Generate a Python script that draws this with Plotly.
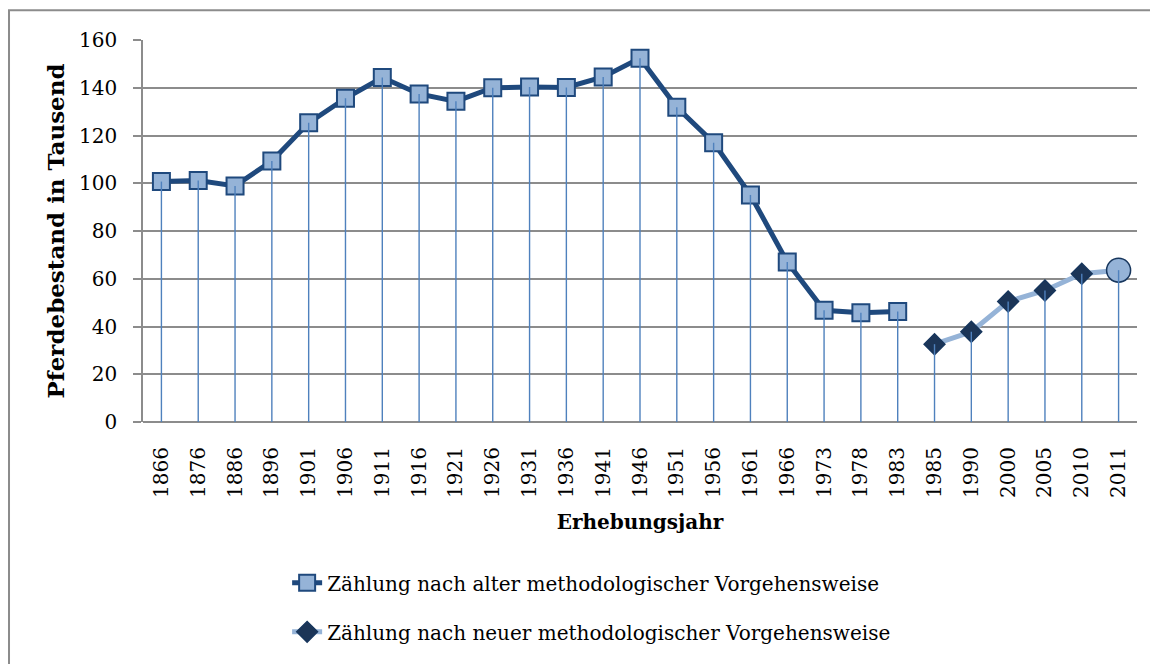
import plotly.graph_objects as go

# Erhebungsjahre (kategoriale Achse)
years_old = ["1866", "1876", "1886", "1896", "1901", "1906", "1911", "1916", "1921",
             "1926", "1931", "1936", "1941", "1946", "1951", "1956", "1961", "1966",
             "1973", "1978", "1983"]
horses_old = [100.7, 101.1, 98.9, 109.3, 125.3, 135.6, 144.3, 137.4, 134.3,
              140.0, 140.3, 140.1, 144.5, 152.4, 131.8, 117.0, 95.1, 67.0,
              46.8, 45.8, 46.3]

years_new = ["1985", "1990", "2000", "2005", "2010", "2011"]
horses_new = [32.6, 37.8, 50.5, 55.1, 62.1, 63.6]

all_years = years_old + years_new
all_values = horses_old + horses_new

FONT = "DejaVu Serif, Liberation Serif, serif"
DARK = "#1f497d"
LIGHT = "#95b3d7"
NAVY = "#1c3557"
DROP = "#4f81bd"
GRID = "#8c8c8c"

fig = go.Figure()

fig.add_trace(go.Scatter(
    x=years_old, y=horses_old,
    name="Zählung nach alter methodologischer Vorgehensweise",
    mode="lines+markers",
    line=dict(color=DARK, width=5),
    marker=dict(symbol="square", size=17, color=LIGHT, line=dict(color=DARK, width=2)),
    legendgroup="a",
))

# letzter Punkt (2011) als Kreis hervorgehoben
new_symbols = ["diamond"] * (len(years_new) - 1) + ["circle"]
new_sizes = [16] * (len(years_new) - 1) + [24]
new_fill = [NAVY] * (len(years_new) - 1) + [LIGHT]
fig.add_trace(go.Scatter(
    x=years_new, y=horses_new,
    name="Zählung nach neuer methodologischer Vorgehensweise",
    mode="lines+markers",
    line=dict(color=LIGHT, width=5),
    marker=dict(symbol=new_symbols, size=new_sizes, color=new_fill, opacity=1,
                line=dict(color="#17365d", width=1.5)),
    legendgroup="b",
))

# Lotlinien von jedem Punkt zur x-Achse
drop_x, drop_y = [], []
for yr, v in zip(all_years, all_values):
    drop_x += [yr, yr, None]
    drop_y += [0, v, None]
fig.add_trace(go.Scatter(
    x=drop_x, y=drop_y, mode="lines",
    line=dict(color=DROP, width=1.4),
    showlegend=False, hoverinfo="skip",
))

fig.update_layout(
    width=1150, height=656,
    margin=dict(l=135, r=21, t=32, b=238),
    paper_bgcolor="white", plot_bgcolor="white",
    font=dict(family=FONT, size=20, color="black"),
    showlegend=True,
    legend=dict(
        x=0.145, y=-0.37, xanchor="left", yanchor="top",
        orientation="v", tracegroupgap=20,
        font=dict(family=FONT, size=20, color="black"),
        bgcolor="rgba(0,0,0,0)",
    ),
    xaxis=dict(
        type="category", categoryorder="array", categoryarray=all_years,
        range=[-0.5, len(all_years) - 0.5],
        tickangle=-90, tickfont=dict(size=20),
        showgrid=False, showline=False,
        ticks="outside", ticklen=6, tickcolor="rgba(0,0,0,0)",
        ticklabelstandoff=10,
        title=dict(text="<b>Erhebungsjahr</b>", font=dict(size=20), standoff=18),
        zeroline=False,
    ),
    yaxis=dict(
        range=[0, 160], dtick=20,
        showgrid=True, gridcolor=GRID, gridwidth=1.5,
        showline=True, linecolor=GRID, linewidth=1.5,
        ticks="outside", ticklen=8, tickcolor=GRID, tickwidth=1.5,
        ticklabelstandoff=12,
        tickfont=dict(size=20),
        zeroline=True, zerolinecolor=GRID, zerolinewidth=1.5,
        title=dict(text="<b>Pferdebestand in Tausend</b>", font=dict(size=23), standoff=8),
    ),
    shapes=[dict(
        type="rect", xref="paper", yref="paper",
        x0=-0.1348, x1=1.1, y0=-0.75, y1=1.078,
        line=dict(color=GRID, width=2), fillcolor="rgba(0,0,0,0)", layer="below",
    )],
)

fig.write_html("out.html")
